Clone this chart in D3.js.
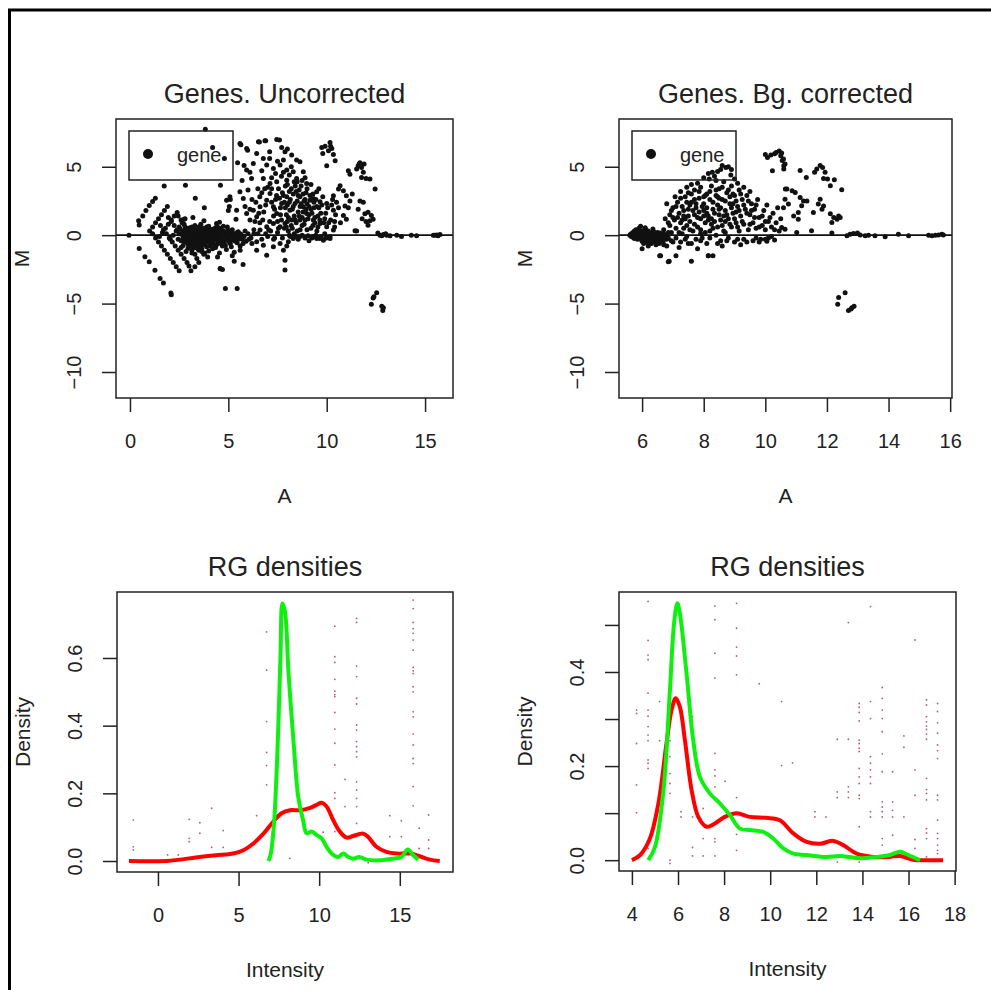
<!DOCTYPE html>
<html>
<head>
<meta charset="utf-8">
<script src="https://cdn.jsdelivr.net/npm/d3@7"></script>
<style>
  body { margin: 0; background: #fff; }
  svg text { font-family: "Liberation Sans", Arial, sans-serif; fill: #222; }
</style>
</head>
<body>
<script>
// ---- data ----
// MA plot, uncorrected: [A, M]
const genesUncorrected = [
  [-0.05,0],[0.47,0.75],[0.44,1.05],[0.65,1.4],[0.81,1.8],[0.98,2.16],[1.15,2.46],[1.29,2.7],
  [0.47,-0.97],[0.76,-1.58],[0.98,-1.95],[1.27,-2.56],[1.53,-3.17],[1.7,-3.5],[2.08,-4.22],[2.1,-4.35],
  [1.0,0.3],[1.15,0.6],[1.3,0.9],[1.45,1.2],[1.6,1.5],[1.75,1.8],[1.9,2.1],
  [1.5,-0.1],[1.65,0.2],[1.8,0.5],[1.95,0.8],[2.1,1.1],[2.25,1.4],[2.4,1.65],
  [2.05,-0.3],[2.2,0.0],[2.35,0.3],[2.5,0.6],[2.65,0.9],[2.8,1.2],
  [1.15,0.1],[1.3,-0.2],[1.45,-0.5],[1.6,-0.8],[1.75,-1.1],[1.9,-1.4],[2.05,-1.7],[2.2,-2.0],[2.35,-2.3],[2.5,-2.6],
  [1.55,0.7],[1.7,0.4],[1.85,0.1],[2.0,-0.2],[2.15,-0.5],[2.3,-0.8],[2.45,-1.1],[2.6,-1.4],[2.75,-1.7],[2.9,-2.0],[3.0,-2.25],
  [1.95,1.3],[2.1,1.0],[2.25,0.7],[2.4,0.4],[2.55,0.1],[2.7,-0.2],[2.85,-0.5],[3.0,-0.8],[3.15,-1.1],[3.3,-1.4],[3.4,-1.7],[3.5,-2.0],
  [2.45,1.4],[2.6,1.1],[2.75,0.8],[2.9,0.5],[3.05,0.2],[3.2,-0.1],[3.35,-0.4],[3.5,-0.7],[3.65,-1.0],[3.8,-1.3],
  [1.74,3.6],[2.82,3.65],[3.32,2.7],[3.78,2.0],[3.83,7.75],[4.2,6.4],[4.8,5.6],[4.6,3.65],[5.1,2.6],
  [3.1,-2.6],[3.3,-2.3],[4.7,-2.5],[5.3,-1.9],[5.75,-2.15],[4.85,-3.9],[5.45,-3.9],[4.6,-2.45],
  [3.2,1.3],[2.75,1.17],[3.76,1.05],[5.0,1.8],[4.55,0.95],[5.39,1.17],[5.05,2.1],
  [2.45,-0.3],[2.55,0.45],[2.6,-0.9],[2.7,0.3],[2.75,-0.5],[2.8,0.6],[2.85,-1.2],[2.9,-0.1],[2.95,0.2],[3.0,-0.4],
  [3.05,0.55],[3.1,-0.7],[3.1,0.1],[3.15,-1.3],[3.2,0.35],[3.25,-0.2],[3.3,0.7],[3.3,-0.9],[3.35,0.05],[3.4,-0.5],
  [3.45,0.4],[3.5,-1.1],[3.5,0.15],[3.55,-0.3],[3.6,0.8],[3.6,-0.75],[3.65,0.25],[3.7,-0.1],[3.75,-1.4],[3.75,0.5],
  [3.8,-0.45],[3.85,0.1],[3.9,-0.85],[3.9,0.35],[3.95,-0.2],[4.0,0.65],[4.0,-1.15],[4.05,-0.05],[4.1,0.3],[4.15,-0.6],
  [4.2,0.1],[4.2,-1.0],[4.25,0.45],[4.3,-0.3],[4.35,-0.05],[4.4,0.85],[4.4,-0.7],[4.45,0.2],[4.5,-0.4],[4.55,-1.3],
  [4.6,0.05],[4.6,0.5],[4.65,-0.2],[4.7,-0.8],[4.75,0.3],[4.8,-0.5],[4.85,0.0],[4.9,-1.05],[4.95,0.6],[5.0,-0.25],
  [5.05,0.15],[5.1,-0.6],[5.15,-0.05],[5.2,0.4],[5.25,-0.35],[5.3,-1.25],[5.35,0.1],[5.4,-0.15],[5.45,-0.55],[5.5,0.25],
  [5.55,-0.05],[5.6,-0.8],[5.65,0.05],[5.7,-0.3],[5.8,-0.1],[5.9,-0.45],[6.0,0.1],[3.2,-0.55],[3.4,0.25],[3.65,-0.6],
  [3.85,-0.25],[4.05,0.45],[4.3,0.25],[4.5,0.05],[4.1,-0.35],[3.55,0.55],[2.95,-0.65],[3.15,0.6],[4.75,-0.15],[5.0,0.35],
  [5.25,0.1],[4.35,-0.9],[3.95,-1.6],[4.45,-1.6],[5.2,-1.5],[5.6,-1.1],
  [2.5,0.1],[2.6,-0.4],[2.65,0.05],[2.7,-0.75],[2.8,0.0],[2.85,0.35],[2.9,-0.35],[2.95,-0.95],[3.0,0.4],[3.05,-0.15],
  [3.1,-0.45],[3.15,0.25],[3.2,-0.8],[3.25,0.5],[3.3,0.1],[3.35,-0.6],[3.4,-0.15],[3.45,-1.0],[3.5,0.6],[3.55,-0.55],
  [3.6,0.1],[3.6,-0.2],[3.65,-1.2],[3.7,0.4],[3.7,-0.4],[3.75,0.05],[3.8,-0.7],[3.8,0.25],[3.85,-0.05],[3.9,0.6],
  [3.95,-0.5],[4.0,0.15],[4.0,-0.3],[4.05,-0.8],[4.1,0.05],[4.15,0.4],[4.15,-0.15],[4.2,-0.5],[4.25,0.2],[4.3,-0.75],
  [4.35,0.55],[4.4,-0.2],[4.45,-0.45],[4.5,0.35],[4.55,-0.1],[4.6,-0.6],[4.65,0.2],[4.7,-0.35],[4.75,0.65],[4.8,-0.05],
  [4.85,-0.75],[4.9,0.25],[4.95,-0.3],[5.0,0.0],[5.05,-0.5],[5.1,0.3],[5.15,-0.85],[5.2,-0.2],[5.3,0.05],[5.35,-0.45],
  [5.45,0.2],[5.5,-0.3],[5.6,0.1],[5.75,-0.6],[5.85,0.3],[6.05,-0.3],[6.2,-0.6],[6.3,0.1],[3.3,0.45],[3.55,0.3],
  [3.0,0.05],[2.85,-0.25],[3.25,-0.35],[3.45,-0.3],[4.25,-0.05],[4.45,0.6],
  [5.59,6.7],[5.93,6.34],[6.53,6.83],[6.86,6.9],[7.46,7.0],[7.71,6.4],[7.88,6.1],[8.22,5.85],[8.47,5.49],[8.64,5.36],
  [6.44,5.97],[6.78,5.61],[6.27,5.24],[6.95,5.12],[7.29,4.88],[7.63,5.12],[7.97,4.76],[8.3,4.63],[8.81,4.63],[5.93,4.76],
  [6.18,4.15],[6.78,4.15],[7.12,3.78],[7.46,3.9],[7.97,4.02],[8.47,4.15],[8.98,3.78],[9.49,3.17],[9.32,2.68],[9.66,2.44],
  [10.0,2.32],[10.34,1.83],[5.08,2.8],[4.91,2.56],[5.59,3.17],[5.76,2.68],[5.42,1.83],[5.93,1.58],[6.27,1.83],[6.1,1.1],
  [6.44,1.34],[6.61,2.07],[6.95,2.56],[7.12,3.05],[7.29,2.07],[7.46,1.58],[7.71,2.32],[7.97,2.8],[8.13,1.83],[8.39,2.32],
  [8.64,2.8],[8.81,2.07],[8.98,1.58],[9.15,2.56],[8.64,1.1],[8.22,1.1],[7.88,0.85],[7.63,0.61],[7.29,0.85],[6.95,0.61],
  [6.61,0.37],[9.32,1.1],[9.66,0.85],[10.0,0.61],[10.34,0.37],[10.17,-0.24],[9.83,-0.37],[9.49,-0.24],
  [6.44,-1.1],[6.78,-0.73],[6.95,-1.46],[7.29,-0.85],[7.63,-0.61],[7.88,-1.83],[8.05,-0.49],[8.3,-0.24],[6.44,-0.49],[4.58,-2.44],
  [5.64,6.6],[5.98,6.2],[6.58,6.8],[6.9,6.9],[7.6,6.95],[5.47,5.3],[5.8,5.1],[6.1,4.6],
  [7.4,2.6],[7.55,3.4],[7.7,1.1],[7.8,2.9],[7.9,3.6],[7.95,1.5],[8.0,2.2],[8.05,0.3],[8.1,3.2],[8.15,2.6],
  [8.2,0.7],[8.25,1.9],[8.3,3.0],[8.35,1.4],[8.4,3.6],[8.45,0.9],[8.5,2.5],[8.55,1.7],[8.6,3.3],[8.65,0.4],
  [8.7,2.3],[8.75,1.3],[8.8,3.0],[8.85,0.8],[8.9,2.6],[8.95,1.9],[9.0,3.4],[9.05,1.2],[9.1,2.1],[9.2,0.5],
  [9.25,1.6],[9.3,3.0],[9.35,2.0],[9.4,0.9],[9.45,2.6],[9.55,1.4],[9.6,2.0],[9.7,1.6],[9.8,2.8],[9.9,1.2],
  [10.05,2.0],[10.2,1.1],[10.3,2.6],[10.45,1.5],[7.35,1.9],[7.5,0.2],[7.65,2.0],[7.75,-0.2],[7.85,2.4],[8.0,1.0],
  [8.15,-0.1],[8.35,0.1],[8.55,-0.3],[8.75,0.0],[8.9,-0.2],[9.1,-0.4],[9.3,-0.1],[9.5,0.3],[9.7,-0.1],[9.9,0.1],
  [7.1,1.0],[7.2,2.4],[6.8,1.7],[6.7,3.1],[6.6,0.9],[7.0,3.5],[7.7,4.3],[8.1,4.4],[8.5,3.9],[8.9,4.2],
  [9.2,3.7],[9.6,3.4],[7.3,-0.3],[7.0,-0.1],[6.7,-0.3],[6.5,0.1],[6.3,0.4],[6.15,-0.2],[6.2,2.6],[6.5,3.4],
  [6.0,3.3],[5.7,4.0],[6.7,4.7],[7.1,5.6],[7.4,4.5],[7.8,5.5],[8.0,6.3],[7.1,6.1],
  [7.2,3.4],[7.3,1.4],[7.45,2.9],[7.5,1.0],[7.6,2.7],[7.65,1.5],[7.75,3.1],[7.85,0.5],[7.9,2.0],[8.0,3.7],
  [8.05,1.3],[8.1,2.4],[8.2,3.4],[8.25,0.5],[8.3,2.1],[8.4,1.1],[8.45,3.2],[8.5,0.3],[8.55,2.9],[8.6,1.4],
  [8.65,2.1],[8.7,3.6],[8.75,0.7],[8.8,1.7],[8.85,2.5],[8.9,1.1],[8.95,3.1],[9.0,0.4],[9.0,2.3],[9.1,1.5],
  [9.15,2.9],[9.2,1.9],[9.3,0.7],[9.35,2.4],[9.4,1.3],[9.5,2.1],[9.55,0.6],[9.65,1.1],[9.75,2.2],[9.85,0.9],
  [9.95,1.6],[10.1,0.9],[10.25,2.2],[10.4,1.0],[7.15,0.3],[7.35,-0.2],[7.55,0.5],[7.95,0.6],[8.1,0.0],[8.45,-0.1],
  [8.65,-0.1],[9.05,-0.05],[9.25,-0.2],[9.45,0.0],[9.65,-0.25],[9.95,-0.15],[8.35,3.9],[8.75,4.0],[7.8,4.6],[7.5,5.4],
  [8.2,5.0],[7.2,4.2],[6.85,3.4],[6.4,2.4],[6.6,2.8],[6.9,2.2],[6.55,1.6],[6.75,1.1],[6.9,0.1],[7.05,0.4],
  [6.35,1.0],[6.1,1.9],[5.85,2.1],
  [9.75,6.4],[9.92,6.5],[10.17,6.78],[10.26,6.34],[10.09,6.17],[10.34,5.9],[10.43,5.44],[10.0,5.07],[9.8,5.97],[10.2,6.5],
  [11.6,5.07],[11.69,5.3],[11.77,4.95],[11.52,4.83],[11.86,4.6],[11.77,4.22],[12.0,4.15],[12.2,4.1],[12.46,3.37],[11.1,4.7],
  [11.18,4.46],[11.9,5.2],[11.65,5.2],
  [10.68,3.61],[10.6,3.37],[10.85,3.25],[11.0,2.88],[11.18,2.5],[10.93,2.14],[11.1,2.0],[11.69,2.5],[11.86,2.4],[11.6,1.9],
  [11.94,1.56],[12.1,1.68],[12.27,1.44],[12.36,1.17],[12.2,1.05],[10.85,1.44],[11.0,1.17],[11.44,0.32],[12.1,0.73],[10.34,2.88],
  [10.5,2.4],[10.6,2.0],[11.8,1.2],[12.0,1.0],[11.3,3.0],[10.7,0.9],[10.4,0.6],
  [7.88,-2.54],[7.97,-0.8],[7.8,-1.1],
  [10.0,-0.2],[10.17,-0.1],[11.52,0.3],[12.71,0],[12.88,0.05],[13.05,0],[13.22,-0.05],[13.56,0],[13.8,-0.1],[14.3,0],
  [14.57,-0.05],[15.42,0],[15.6,0.02],[15.76,0.05],[15.66,-0.05],[15.5,0.0],[12.6,0.15],[12.8,-0.05],[13.0,0.1],
  [12.54,-4.2],[12.36,-4.6],[12.27,-5.05],[12.8,-5.2],[12.88,-5.3],[12.85,-5.5],[12.4,-4.5]
];

// MA plot, background corrected: [A, M]
const genesBgCorrected = [
  [5.6,0.0],[5.65,0.1],[5.65,-0.1],[5.7,0.2],[5.7,-0.15],[5.75,0.3],[5.75,0.05],[5.75,-0.25],[5.8,0.4],[5.8,-0.05],
  [5.85,0.15],[5.85,-0.3],[5.9,0.5],[5.9,0.0],[5.95,0.25],[5.95,-0.2],[6.0,-0.45],[6.0,0.1],[6.05,0.35],[6.05,-0.1],
  [6.1,-0.3],[6.1,0.05],[6.15,0.2],[6.15,-0.5],[6.2,-0.15],[6.2,0.3],[6.25,0.0],[6.25,-0.35],[6.3,-0.6],[6.3,0.15],
  [6.35,-0.2],[6.4,0.05],[6.4,-0.45],[6.45,-0.1],[6.5,-0.3],[6.5,0.2],[6.55,-0.6],[6.6,-0.05],[6.65,-0.35],[6.7,0.1],
  [6.0,-1.0],[6.2,-0.8],[6.57,-1.5],[6.88,-1.9],[5.95,0.65],[6.1,0.55],[6.35,0.45],[6.7,-0.7],[6.8,-0.3],[6.85,0.2],
  [5.62,0.05],[5.68,-0.05],[5.72,0.12],[5.78,-0.12],[5.82,0.25],[5.88,-0.18],[5.92,0.35],[5.98,-0.32],[6.02,0.2],[6.08,-0.4],
  [6.12,0.4],[6.18,-0.25],[6.22,0.1],[6.28,-0.45],[6.32,-0.05],[6.38,0.25],[6.42,-0.3],[6.48,0.0],[6.52,-0.45],[6.58,0.15],
  [6.62,-0.25],[6.68,-0.5],[6.72,-0.15],[6.45,-0.7],[6.25,-0.6],[6.05,-0.6],
  [6.8,2.3],[7.07,2.8],[7.45,3.5],[7.8,3.8],[8.18,4.1],[8.28,4.6],[8.45,4.65],[8.6,5.1],[8.72,4.95],[8.88,4.4],
  [9.0,4.1],[8.15,4.5],[8.35,4.3],[8.55,4.8],[8.8,5.0],
  [6.7,0.4],[6.75,1.2],[6.8,-0.8],[6.85,0.9],[6.9,1.5],[6.95,0.2],[7.0,2.0],[7.0,-0.5],[7.05,1.1],[7.1,0.5],
  [7.15,2.4],[7.2,1.6],[7.2,-0.9],[7.25,0.9],[7.3,2.1],[7.3,0.1],[7.35,1.4],[7.4,2.8],[7.4,-0.3],[7.45,0.7],
  [7.5,1.9],[7.5,3.1],[7.55,1.0],[7.6,2.4],[7.6,-0.6],[7.65,0.3],[7.7,1.5],[7.7,3.3],[7.75,2.0],[7.8,0.6],
  [7.8,-1.0],[7.85,2.7],[7.9,1.2],[7.9,3.5],[7.95,-0.2],[8.0,1.8],[8.0,2.3],[8.05,0.9],[8.1,3.0],[8.1,-0.6],
  [8.15,1.4],[8.2,2.6],[8.2,0.3],[8.25,3.6],[8.3,1.9],[8.3,-1.5],[8.35,1.0],[8.4,2.9],[8.4,0.0],[8.45,2.2],
  [8.5,3.4],[8.5,1.5],[8.55,-0.4],[8.6,0.7],[8.6,2.6],[8.65,3.9],[8.7,1.8],[8.7,0.2],[8.75,3.1],[8.8,1.2],
  [8.8,-0.2],[8.85,2.3],[8.9,0.6],[8.9,3.6],[8.95,1.6],[9.0,2.9],[9.0,-0.5],[9.05,0.9],[9.1,2.1],[9.15,3.3],
  [9.15,0.3],[9.2,1.4],[9.25,2.6],[9.3,-0.3],[9.3,0.8],[9.35,1.9],[9.4,2.9],[9.45,0.4],[9.5,1.5],[9.55,2.3],
  [9.6,-0.4],[9.6,0.9],[9.65,1.9],[9.7,0.5],[9.75,2.6],[9.8,1.3],[9.85,-0.3],[9.9,0.7],[9.95,1.8],[10.0,0.4],
  [10.05,2.2],[10.1,-0.2],[10.1,1.0],[10.2,0.6],[10.25,1.6],[10.3,-0.35],[10.35,0.9],[10.4,2.0],[10.45,0.3],[10.5,1.2],
  [7.25,3.2],[7.6,3.7],[8.0,4.2],[8.4,4.0],[8.9,4.8],[9.1,3.8],[9.3,3.5],[9.5,3.2],[7.1,-1.5],[7.6,-1.9],
  [8.15,-1.5],[8.6,-0.8],[9.2,-0.7],[9.8,-0.5],[10.0,-0.3],[7.9,0.1],[8.3,0.5],[8.7,1.0],[8.1,1.6],[7.7,2.6],
  [7.4,1.2],[8.95,2.3],[8.45,2.8],[8.25,1.2],[8.55,2.0],[7.85,1.7],[8.05,2.9],[8.65,1.4],[8.85,2.8],[9.05,1.7],
  [7.55,2.2],[7.35,0.5],[7.15,1.3],[6.95,1.8],[6.85,-0.2],
  [6.9,0.7],[7.0,1.3],[7.1,2.1],[7.2,0.2],[7.25,2.7],[7.3,1.1],[7.35,1.8],[7.45,-0.1],[7.45,2.4],[7.5,1.4],
  [7.55,0.4],[7.6,3.0],[7.65,1.8],[7.7,0.8],[7.75,2.3],[7.8,1.3],[7.85,3.2],[7.9,0.4],[7.95,2.1],[8.0,1.4],
  [8.0,2.8],[8.05,0.2],[8.1,2.0],[8.15,1.1],[8.2,3.2],[8.25,0.8],[8.3,2.4],[8.35,1.6],[8.4,3.3],[8.45,0.6],
  [8.5,1.9],[8.5,2.7],[8.55,1.1],[8.6,3.5],[8.65,0.3],[8.7,2.5],[8.75,1.5],[8.8,3.3],[8.85,0.8],[8.9,2.0],
  [8.95,3.0],[9.0,1.2],[9.05,2.5],[9.1,0.6],[9.15,1.8],[9.2,3.0],[9.25,1.0],[9.3,2.2],[9.4,1.6],[9.45,2.5],
  [9.5,0.8],[9.55,1.8],[9.65,1.3],[9.7,2.2],[9.8,0.6],[9.9,1.4],[10.0,1.0],[10.15,1.3],[10.3,0.4],[7.1,-0.2],
  [7.5,-0.6],[7.9,-0.4],[8.2,-0.2],[8.45,-0.6],[8.75,-0.4],[9.1,-0.3],[9.4,-0.5],[9.7,-0.2],[10.05,-0.45],[10.2,-0.1],
  [6.75,0.0],[6.95,-0.4],[7.25,-0.5],[7.75,-0.3],
  [10.07,5.68],[10.18,5.85],[10.35,6.05],[10.45,6.15],[10.5,5.8],[10.55,5.45],[10.6,5.07],[10.23,4.7],[10.65,3.37],[10.0,5.9],
  [10.3,5.95],[10.53,6.0],[10.59,5.56],[10.64,5.2],[10.6,4.83],
  [11.67,4.83],[11.78,5.1],[11.86,4.95],[11.94,4.6],[11.6,4.6],[11.89,4.15],[12.02,4.1],[11.13,4.73],[11.33,4.22],[12.24,4.05],
  [12.11,3.61],[12.48,3.32],[10.7,3.37],[10.87,3.25],[10.97,3.12],[10.64,2.63],[10.75,2.27],[10.59,2.0],[11.13,2.75],[11.24,2.5],
  [11.35,2.5],[11.18,2.15],[11.07,1.65],[10.92,1.41],[11.07,1.17],[11.78,2.63],[11.72,2.27],[11.89,2.14],[11.84,1.9],[11.56,1.65],
  [12.11,1.56],[12.22,1.3],[12.38,1.41],[12.16,0.93],[12.33,1.17],[12.43,1.3],[10.53,0.56],[10.64,0.44],[11.02,0.2],[11.5,0.32],
  [12.16,0.15],
  [12.65,-0.05],[12.75,0.07],[12.86,0.12],[12.99,0.15],[13.08,0.02],[13.24,-0.05],[13.35,0],[13.56,-0.05],[13.89,-0.12],[14.32,0.07],
  [14.65,-0.05],[15.3,0],[15.41,-0.05],[15.52,0],[15.62,0.02],[15.73,0.07],[15.78,0.02],
  [12.38,-4.56],[12.59,-4.2],[12.35,-5.05],[12.81,-5.3],[12.88,-5.2],[12.7,-5.5],[12.78,-5.4],
  [8.15,-1.51],[6.85,-1.95],[6.6,-1.5]
];

// density curves: [intensity, density]
const redUncorrected = [
  [-1.8,0],[0.54,0.0],[2.6,0.012],[3.6,0.017],[4.67,0.022],[5.3,0.032],[5.9,0.051],[6.53,0.08],[7.15,0.116],[7.67,0.141],
  [8.2,0.15],[8.8,0.15],[9.4,0.156],[9.84,0.166],[10.15,0.172],[10.46,0.161],[10.87,0.121],[11.28,0.087],[11.7,0.069],[12.11,0.074],
  [12.73,0.081],[13.04,0.071],[13.55,0.042],[14.17,0.027],[14.8,0.022],[15.3,0.022],[15.7,0.022],[16.24,0.014],[16.86,0.004],[17.48,0.0]
];
const greenUncorrected = [
  [6.85,0],[7.0,0.022],[7.2,0.111],[7.4,0.31],[7.6,0.604],[7.72,0.761],[7.87,0.74],[8.1,0.555],[8.4,0.358],[8.7,0.19],
  [9.0,0.121],[9.22,0.082],[9.53,0.087],[9.84,0.077],[10.15,0.067],[10.46,0.042],[10.77,0.022],[11.17,0.012],[11.5,0.022],[11.8,0.012],
  [12.1,0.007],[12.5,0.012],[12.93,0.004],[13.76,0.002],[14.59,0.007],[15.1,0.012],[15.5,0.034],[15.83,0.017],[16.15,0.004]
];
const redCorrected = [
  [4.0,0],[4.36,0.011],[4.78,0.046],[5.15,0.121],[5.5,0.248],[5.72,0.319],[5.9,0.344],[6.08,0.326],[6.3,0.255],[6.59,0.149],
  [6.88,0.092],[7.24,0.071],[7.6,0.078],[8.03,0.092],[8.54,0.1],[9.12,0.092],[9.84,0.09],[10.42,0.085],[11.0,0.057],[11.58,0.039],
  [12.16,0.035],[12.73,0.041],[13.17,0.032],[13.75,0.014],[14.47,0.007],[15.19,0.007],[15.63,0.009],[16.2,0.001],[16.93,0.0],[17.5,0]
];
const greenCorrected = [
  [4.71,0],[5.0,0.028],[5.37,0.149],[5.65,0.362],[5.83,0.504],[5.97,0.546],[6.08,0.525],[6.37,0.397],[6.66,0.255],[6.95,0.177],
  [7.38,0.142],[7.81,0.121],[8.25,0.096],[8.69,0.067],[9.12,0.064],[9.7,0.06],[10.13,0.046],[10.57,0.025],[11.0,0.014],[11.58,0.011],
  [12.44,0.007],[13.02,0.009],[13.89,0.004],[14.61,0.007],[15.19,0.011],[15.63,0.018],[15.99,0.011],[16.5,0]
];

// faint specks in the density panels: [intensity, [densities]]
const specksUncorrected = [
  [6.74,[0.677,0.564,0.412,0.321,0.282,0.225]],
  [10.97,[0.694,0.604,0.587,0.537,0.502,0.492,0.486,0.439,0.39,0.348,0.284,0.202,0.185,0.087]],
  [12.32,[0.717,0.705,0.576,0.545,0.481,0.464,0.402,0.387,0.353,0.338,0.323,0.308,0.234,0.21,0.185,0.161,0.111]],
  [15.83,[0.771,0.746,0.705,0.687,0.673,0.653,0.623,0.572,0.562,0.554,0.515,0.5,0.441,0.426,0.375,0.343,0.303,0.288,0.22,0.163]],
  [-1.53,[0.121,0.042,0.033]],[0.6,[0.018]],[1.26,[0.018]],[1.94,[0.123,0.067,0.057]],[2.6,[0.113,0.082]],
  [3.33,[0.156,0.04]],[4.05,[0.09,0.04]],[6.12,[0.134]],[8.18,[0.008]],[10.25,[0.085]],[11.6,[0.241,0.161]],
  [13.04,[-0.005]],[14.38,[0.134,0.072]],[15.1,[0.119,0.072]],[16.2,[0.097,0.037]],[16.79,[0.136,0.062,0.037]]
];
const specksCorrected = [
  [4.2,[0.319,0.312,0.248,0.16,0.101]],
  [4.7,[0.55,0.467,0.436,0.426,0.355,0.319,0.306,0.284,0.266,0.254,0.213,0.206,0.195,0.025]],
  [5.2,[0.337,0.254]],
  [5.65,[0.333,0.254,0.22,0.184,0.163,0.142,0.0,-0.007]],
  [6.13,[0.103,0.092]],[6.63,[0.305,0.092,0.027,0.009]],[7.09,[0.11,0.046,0.009]],
  [7.6,[0.54,0.511,0.44,0.387,0.227,0.192,0.179,0.156,0.046,0.039,0.009]],
  [8.04,[0.168]],[8.54,[0.546,0.493,0.453,0.434,0.394,0.133,0.055,0.021]],
  [9.52,[0.375]],[10.49,[0.337,0.201]],[10.97,[0.207]],[11.94,[0.103,0.092]],[12.42,[0.092]],
  [12.91,[0.257,0.145,0.133,-0.004]],[13.39,[0.505,0.257,0.156,0.145,0.133]],
  [13.86,[0.333,0.325,0.314,0.296,0.255,0.248,0.238,0.231,0.195,0.177,0.163,0.138,0.131,0.071,-0.004]],
  [14.35,[0.539,0.337,0.301,0.22,0.206,0.192,0.177,0.163,0.103,0.092]],
  [14.86,[0.367,0.344,0.319,0.301,0.273,0.226,0.188,0.124,0.113,0.103,0.092,0.046,0.032]],
  [15.31,[0.188,0.124,0.106,0.092,0.053]],[15.8,[0.264,0.24,0.092]],
  [16.28,[0.468,0.192,0.138,0.044,0.025]],
  [16.78,[0.341,0.33,0.305,0.294,0.285,0.278,0.268,0.257,0.174,0.15,0.142,0.128,0.067,0.058,0.046,0.007]],
  [17.26,[0.333,0.316,0.292,0.27,0.245,0.233,0.216,0.138,0.128,0.085,0.057,0.046,0.032,0.021,0.014]]
];

// tick values
const maTicksUncorrected = [0, 5, 10, 15];
const maTicksCorrected = [6, 8, 10, 12, 14, 16];
const mTicks = [-10, -5, 0, 5];
const intTicksUncorrected = [0, 5, 10, 15];
const intTicksCorrected = [4, 6, 8, 10, 12, 14, 16, 18];
const densTicksUncorrected = [0, 0.2, 0.4, 0.6];
const densTicksCorrected = [0, 0.1, 0.2, 0.3, 0.4, 0.5];

// ---- drawing ----
const W = 991, H = 990;
const svg = d3.select("body").append("svg").attr("width", W).attr("height", H);

// outer frame (top and left edges)
svg.append("line").attr("x1", 8).attr("x2", W).attr("y1", 10).attr("y2", 10)
  .attr("stroke", "#000").attr("stroke-width", 3);
svg.append("line").attr("x1", 9.5).attr("x2", 9.5).attr("y1", 9).attr("y2", H)
  .attr("stroke", "#000").attr("stroke-width", 3);

function panel(box, xDom, yDom, xt, yt, yFmt, title, xLab, yLab) {
  const x = d3.scaleLinear().domain(xDom).range([box.x0, box.x1]);
  const y = d3.scaleLinear().domain(yDom).range([box.y1, box.y0]);
  const g = svg.append("g");

  const xAxis = d3.axisBottom(x).tickValues(xt).tickSize(14).tickFormat(d3.format("d"));
  g.append("g").attr("transform", `translate(0,${box.y1})`).call(xAxis)
    .attr("font-size", 20).attr("font-family", null)
    .call(s => s.select(".domain").remove())
    .call(s => s.selectAll("line").attr("stroke", "#222").attr("stroke-width", 1.5))
    .call(s => s.selectAll("text").attr("y", 43).attr("dy", "0.35em"));

  const yAxis = d3.axisLeft(y).tickValues(yt).tickSize(14).tickFormat(yFmt);
  g.append("g").attr("transform", `translate(${box.x0},0)`).call(yAxis)
    .attr("font-size", 20).attr("font-family", null)
    .call(s => s.select(".domain").remove())
    .call(s => s.selectAll("line").attr("stroke", "#222").attr("stroke-width", 1.5))
    .call(s => s.selectAll("text").attr("x", null).attr("dy", "0.35em")
      .attr("text-anchor", "middle").attr("transform", "translate(-42,0) rotate(-90)"));

  g.append("text").attr("x", (box.x0 + box.x1) / 2).attr("y", box.y0 - 16)
    .attr("text-anchor", "middle").style("font-size", "27px").text(title);
  g.append("text").attr("x", (box.x0 + box.x1) / 2).attr("y", box.y1 + 105)
    .attr("text-anchor", "middle").style("font-size", "21px").text(xLab);
  g.append("text").attr("dy", "0.35em").attr("text-anchor", "middle")
    .attr("transform", `translate(${box.x0 - 94},${(box.y0 + box.y1) / 2}) rotate(-90)`)
    .style("font-size", "21px").text(yLab);

  return { g, x, y, box };
}

function frame(p) {
  p.g.append("rect").attr("x", p.box.x0).attr("y", p.box.y0)
    .attr("width", p.box.x1 - p.box.x0).attr("height", p.box.y1 - p.box.y0)
    .attr("fill", "none").attr("stroke", "#222").attr("stroke-width", 1.5);
}

function maPlot(box, xDom, xt, pts, title) {
  const p = panel(box, xDom, [-11.9, 8.49], xt, mTicks, d => String(d).replace("-", "\u2212"), title, "A", "M");
  p.g.append("line").attr("x1", box.x0).attr("x2", box.x1).attr("y1", p.y(0)).attr("y2", p.y(0))
    .attr("stroke", "#111").attr("stroke-width", 1.6);
  p.g.append("g").selectAll("circle").data(pts).join("circle")
    .attr("cx", d => p.x(d[0])).attr("cy", d => p.y(d[1])).attr("r", 2.5).attr("fill", "#111");
  // legend
  const lx = box.x0 + 13, ly = box.y0 + 12;
  p.g.append("rect").attr("x", lx).attr("y", ly).attr("width", 104).attr("height", 49)
    .attr("fill", "none").attr("stroke", "#222").attr("stroke-width", 1.5);
  p.g.append("circle").attr("cx", lx + 19).attr("cy", ly + 23).attr("r", 5).attr("fill", "#111");
  p.g.append("text").attr("x", lx + 48).attr("y", ly + 31).style("font-size", "20px").text("gene");
  frame(p);
}

function densPlot(box, xDom, yDom, xt, yt, yFmt, red, green, specks) {
  const p = panel(box, xDom, yDom, xt, yt, yFmt, "RG densities", "Intensity", "Density");
  const flat = specks.flatMap(c => c[1].map(v => [c[0], v]));
  p.g.append("g").selectAll("circle").data(flat).join("circle")
    .attr("cx", d => p.x(d[0])).attr("cy", d => p.y(d[1])).attr("r", 0.9)
    .attr("fill", "#9a2a3a").attr("opacity", 0.75);
  const line = d3.line().x(d => p.x(d[0])).y(d => p.y(d[1])).curve(d3.curveCatmullRom.alpha(0.5));
  p.g.append("path").datum(red).attr("d", line).attr("fill", "none")
    .attr("stroke", "#ff0000").attr("stroke-width", 4).attr("stroke-linejoin", "round");
  p.g.append("path").datum(green).attr("d", line).attr("fill", "none")
    .attr("stroke", "#10f010").attr("stroke-width", 4).attr("stroke-linejoin", "round");
  frame(p);
}

maPlot({ x0: 116, x1: 453, y0: 119, y1: 398 }, [-0.71, 16.42], maTicksUncorrected,
  genesUncorrected, "Genes. Uncorrected");
maPlot({ x0: 619, x1: 952, y0: 119, y1: 398 }, [5.25, 16.06], maTicksCorrected,
  genesBgCorrected, "Genes. Bg. corrected");

densPlot({ x0: 117, x1: 453, y0: 592, y1: 872 }, [-2.54, 18.3], [-0.0325, 0.795],
  intTicksUncorrected, densTicksUncorrected, d3.format(".1f"),
  redUncorrected, greenUncorrected, specksUncorrected);
densPlot({ x0: 619, x1: 956, y0: 592, y1: 871 }, [3.44, 18.06], [-0.023, 0.57],
  intTicksCorrected, densTicksCorrected, d => (Math.round(d * 10) % 2 === 0 ? d3.format(".1f")(d) : ""),
  redCorrected, greenCorrected, specksCorrected);
</script>
</body>
</html>
